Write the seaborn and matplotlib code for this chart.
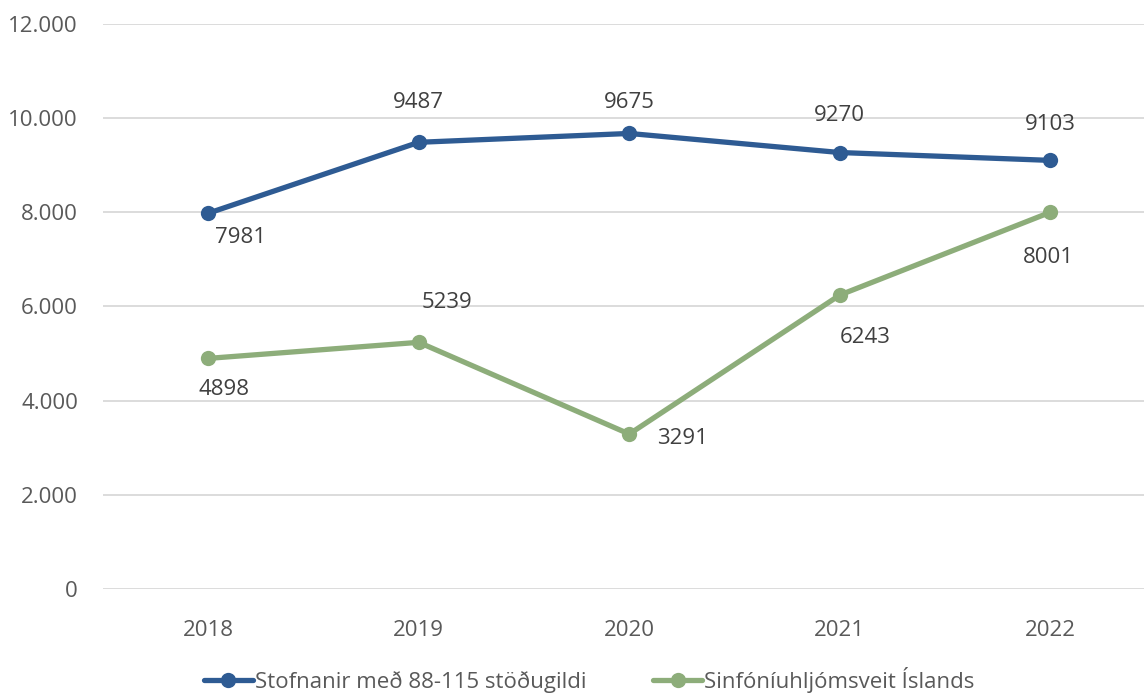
import matplotlib
matplotlib.use('Agg')

import pandas as pd
import matplotlib.pyplot as plt
from matplotlib.ticker import FuncFormatter
import seaborn as sns

years = [2018, 2019, 2020, 2021, 2022]
stofnanir = [7981, 9487, 9675, 9270, 9103]
sinfonia = [4898, 5239, 3291, 6243, 8001]
series_names = ["Stofnanir með 88-115 stöðugildi", "Sinfóníuhljómsveit Íslands"]
y_ticks = [0, 2000, 4000, 6000, 8000, 10000, 12000]

BLUE = "#2E5B93"
GREEN = "#8DAD7A"
TEXT = "#595959"
LABEL = "#404040"

df = pd.DataFrame({
    "year": years * 2,
    "value": stofnanir + sinfonia,
    "series": [series_names[0]] * len(years) + [series_names[1]] * len(years),
})

sns.set_theme(style="white")
plt.rcParams['font.family'] = ['Open Sans', 'DejaVu Sans']

fig = plt.figure(figsize=(11.44, 6.95), dpi=100)
ax = fig.add_axes([0.09, 0.1525, 0.91, 0.813])

sns.lineplot(data=df, x="year", y="value", hue="series", palette=[BLUE, GREEN],
             marker="o", markersize=11, markeredgewidth=0, linewidth=3.8,
             ax=ax, legend=True)

ax.set_xlim(years[0] - 0.5, years[0] + 4.445)
ax.set_ylim(0, 12000)
ax.set_yticks(y_ticks)
ax.yaxis.set_major_formatter(FuncFormatter(lambda v, p: f"{int(v):,}".replace(",", ".")))
ax.set_xticks(years)
ax.set_xticklabels([str(y) for y in years])
ax.grid(axis="y", color="#D9D9D9", linewidth=1.3)
ax.set_axisbelow(True)
for s in ax.spines.values():
    s.set_visible(False)
ax.tick_params(axis="both", length=0, labelsize=16, colors=TEXT)
ax.tick_params(axis="y", pad=18)
ax.tick_params(axis="x", pad=22)
ax.set_xlabel("")
ax.set_ylabel("")

# label offsets in pixels (position only)
blue_off = [(32, -24), (0, 40), (0, 31), (0, 37), (0, 36)]
green_off = [(16, -31), (28, 40), (53, -4), (25, -42), (-2, -45)]
for vals, offs in [(stofnanir, blue_off), (sinfonia, green_off)]:
    for x, v, o in zip(years, vals, offs):
        ax.annotate(str(v), (x, v), xytext=o, textcoords="offset pixels",
                    ha="center", va="center", fontsize=16, color=LABEL)

handles, labels = ax.get_legend_handles_labels()
ax.get_legend().remove()
fig.legend(handles, labels, loc="center", bbox_to_anchor=(0.515, 0.022), ncol=2,
           frameon=False, fontsize=16, labelcolor=TEXT, handlelength=2.2,
           handletextpad=0.1, columnspacing=3.0)

fig.savefig("out.png", dpi=100)
